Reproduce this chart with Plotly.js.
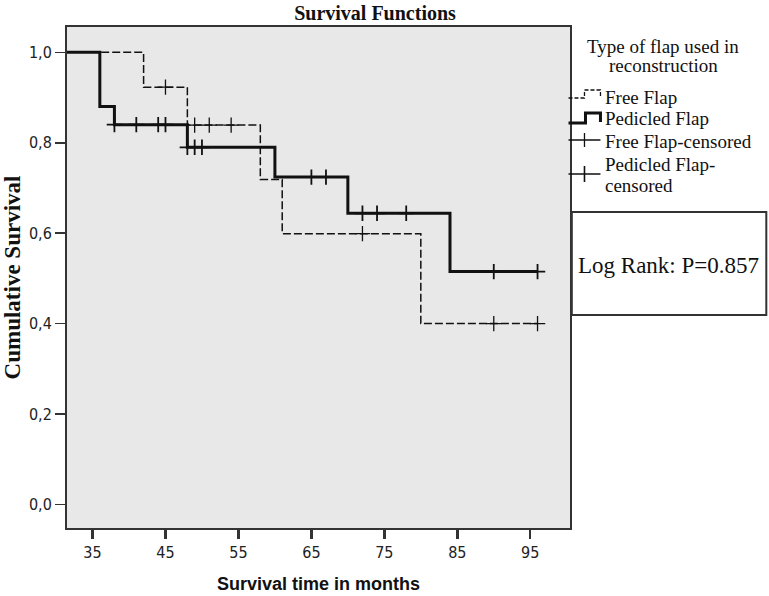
<!DOCTYPE html>
<html>
<head>
<meta charset="utf-8">
<script src="https://cdn.plot.ly/plotly-3.0.1.min.js"></script>
<style>html,body{margin:0;padding:0;background:#fff;}#chart{width:769px;height:596px;}</style>
</head>
<body>
<div id="chart"></div>
<script>
// Kaplan-Meier step curves (time in months, cumulative survival)
const freeTimes = [0, 42, 48, 58, 61, 80, 96];
const freeSurv  = [1.0, 0.923, 0.839, 0.719, 0.599, 0.40, 0.40];
const pedTimes  = [0, 36, 38, 48, 60, 70, 84, 96];
const pedSurv   = [1.0, 0.88, 0.84, 0.79, 0.724, 0.644, 0.515, 0.515];

// Censored observations
const freeCensTimes = [45, 49, 51, 54, 72, 90, 96];
const freeCensSurv  = [0.923, 0.839, 0.839, 0.839, 0.599, 0.40, 0.40];
const pedCensTimes  = [38, 41, 44, 45, 48, 49, 50, 65, 67, 72, 74, 78, 90, 96];
const pedCensSurv   = [0.84, 0.84, 0.84, 0.84, 0.79, 0.79, 0.79, 0.724, 0.724, 0.644, 0.644, 0.644, 0.515, 0.515];

const xTicks = [35, 45, 55, 65, 75, 85, 95];
const yTicks = [0.0, 0.2, 0.4, 0.6, 0.8, 1.0];
const seriesNames = ['Free Flap', 'Pedicled Flap', 'Free Flap-censored', 'Pedicled Flap-censored'];
const legendLabels = ['Free Flap', 'Pedicled Flap', 'Free Flap-censored', 'Pedicled Flap-', 'censored'];
const legendTitleLines = ['Type of flap used in', 'reconstruction'];
const titleText = 'Survival Functions';
const logRankText = 'Log Rank: P=0.857';

const serif = 'Liberation Serif, Times New Roman, serif';
const ink = '#111';

// layout geometry (pixels) -> paper coordinates helpers for decorations
const M = {l: 67, r: 198.5, t: 27, b: 68};
const W = 769, H = 596;
const pw = W - M.l - M.r, ph = H - M.t - M.b;
const px = v => (v - M.l) / pw;
const py = v => (H - M.b - v) / ph;

const traces = [
  {x: freeTimes, y: freeSurv, type: 'scatter', mode: 'lines', name: seriesNames[0], showlegend: false,
   line: {shape: 'hv', color: ink, width: 1.5, dash: '8px,3px'}},
  {x: pedTimes, y: pedSurv, type: 'scatter', mode: 'lines', name: seriesNames[1], showlegend: false,
   line: {shape: 'hv', color: ink, width: 3}},
  {x: freeCensTimes, y: freeCensSurv, type: 'scatter', mode: 'markers', name: seriesNames[2], showlegend: false,
   marker: {symbol: 'cross-thin', size: 11, color: ink, line: {color: ink, width: 1.3}}},
  {x: pedCensTimes, y: pedCensSurv, type: 'scatter', mode: 'markers', name: seriesNames[3], showlegend: false,
   marker: {symbol: 'cross-thin', size: 11, color: ink, line: {color: ink, width: 1.8}}}
];

const pathShape = (d, width, dash) => ({type: 'path', xref: 'paper', yref: 'paper', path: d,
  line: {color: ink, width: width, dash: dash || 'solid'}});
const P = (x, y) => px(x).toFixed(5) + ',' + py(y).toFixed(5);

const shapes = [
  {type: 'rect', xref: 'paper', yref: 'paper', x0: px(572.3), x1: px(767), y0: py(315), y1: py(212),
   line: {color: '#333', width: 2}, fillcolor: '#ffffff', layer: 'above'},
  // legend glyphs
  pathShape('M' + P(569, 98) + ' L' + P(585, 98) + ' L' + P(585, 90) + ' L' + P(601, 90) + ' L' + P(601, 98), 1.3, '4px,2px'),
  pathShape('M' + P(569, 123) + ' L' + P(586, 123) + ' L' + P(586, 113) + ' L' + P(601, 113) + ' L' + P(601, 122), 3),
  pathShape('M' + P(569, 140) + ' L' + P(601, 140) + ' M' + P(585, 133) + ' L' + P(585, 147), 1.3),
  pathShape('M' + P(569, 174) + ' L' + P(601, 174) + ' M' + P(585, 166) + ' L' + P(585, 182), 1.6)
];

const ann = (text, x, y, xanchor, size) => ({text: text, xref: 'paper', yref: 'paper', x: px(x), y: py(y),
  xanchor: xanchor, yanchor: 'middle', showarrow: false, font: {family: serif, size: size, color: ink}});

const legendRowsY = [97, 118, 141, 164, 185];
const annotations = [
  ann(legendTitleLines[0], 664, 46, 'center', 19),
  ann(legendTitleLines[1], 664, 66, 'center', 19),
  ann(logRankText, 669.5, 265, 'center', 23)
];
legendLabels.forEach((t, i) => annotations.push(ann(t, 604, legendRowsY[i], 'left', 19)));

const layout = {
  width: W, height: H,
  margin: M,
  paper_bgcolor: '#ffffff',
  plot_bgcolor: '#e8e8e8',
  separators: ',.',
  showlegend: false,
  title: {text: '<b>' + titleText + '</b>', font: {family: serif, size: 20, color: ink},
          xref: 'container', x: 375 / W, xanchor: 'center', yref: 'container', y: 1 - 13 / H, yanchor: 'middle'},
  xaxis: {
    range: [31.5, 100.45], tickvals: xTicks, tickformat: 'd',
    showgrid: false, zeroline: false, showline: true, mirror: true,
    linecolor: '#333', linewidth: 2,
    ticks: 'outside', ticklen: 9, tickwidth: 2.5, tickcolor: '#333',
    tickfont: {family: 'DejaVu Sans Condensed, Liberation Sans Narrow, DejaVu Sans, sans-serif', size: 16, color: '#222'},
    title: {text: '<b>Survival time in months</b>', font: {family: 'Liberation Sans, Arial, sans-serif', size: 18, color: ink}, standoff: 16}
  },
  yaxis: {
    range: [-0.052, 1.056], tickvals: yTicks, tickformat: '.1f',
    showgrid: false, zeroline: false, showline: true, mirror: true,
    linecolor: '#333', linewidth: 2,
    ticks: 'outside', ticklen: 10, tickwidth: 1.5, tickcolor: '#333',
    tickfont: {family: 'DejaVu Sans Condensed, Liberation Sans Narrow, DejaVu Sans, sans-serif', size: 16, color: '#222'},
    title: {text: '<b>Cumulative Survival</b>', font: {family: serif, size: 23, color: ink}, standoff: 6}
  },
  shapes: shapes,
  annotations: annotations
};

Plotly.newPlot('chart', traces, layout, {displayModeBar: false, staticPlot: true});
</script>
</body>
</html>
